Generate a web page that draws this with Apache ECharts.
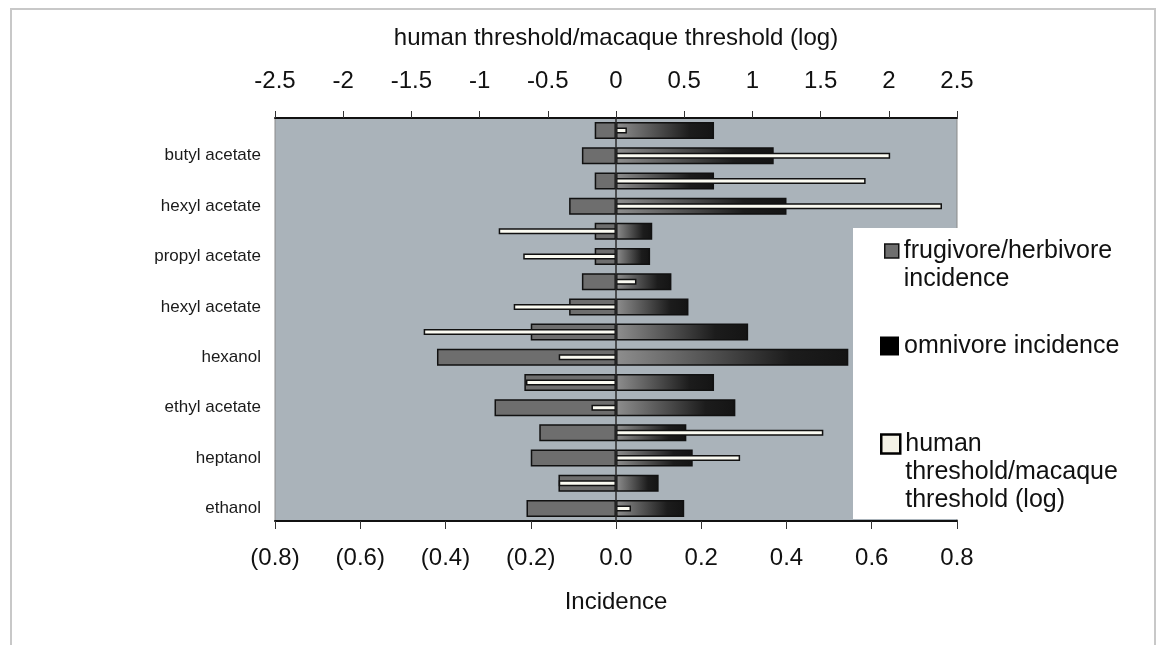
<!DOCTYPE html>
<html>
<head>
<meta charset="utf-8">
<script src="https://cdn.jsdelivr.net/npm/echarts@6/dist/echarts.min.js"></script>
<style>
  html, body { margin: 0; padding: 0; background: #ffffff; }
  #chart { width: 1157px; height: 645px; }
</style>
</head>
<body>
<div id="chart"></div>
<script>
// ---- data (rows top to bottom; every second row carries a label) ----
const categories = ['', 'butyl acetate', '', 'hexyl acetate', '', 'propyl acetate', '', 'hexyl acetate',
                    '', 'hexanol', '', 'ethyl acetate', '', 'heptanol', '', 'ethanol'];
const frugivoreIncidence = [-0.05, -0.08, -0.05, -0.11, -0.05, -0.05, -0.08, -0.11,
                            -0.20, -0.42, -0.215, -0.285, -0.18, -0.20, -0.135, -0.21];
const omnivoreIncidence = [0.23, 0.37, 0.23, 0.40, 0.085, 0.08, 0.13, 0.17,
                           0.31, 0.545, 0.23, 0.28, 0.165, 0.18, 0.10, 0.16];
const thresholdLog = [0.08, 2.01, 1.83, 2.39, -0.86, -0.68, 0.15, -0.75,
                      -1.41, -0.42, -0.66, -0.18, 1.52, 0.91, -0.42, 0.11];
const seriesNames = ['frugivore/herbivore incidence', 'omnivore incidence', 'human threshold/macaque threshold (log)'];
const legendLabels = [['frugivore/herbivore', 'incidence'], ['omnivore incidence'], ['human', 'threshold/macaque', 'threshold (log)']];
const bottomAxisName = 'Incidence';
const topAxisName = 'human threshold/macaque threshold (log)';

const FONT = "'Liberation Sans', Arial, sans-serif";
const chart = echarts.init(document.getElementById('chart'), null, { renderer: 'canvas' });

function incLabel(v) {
  if (Math.abs(v) < 1e-9) return '0.0';
  return v < 0 ? '(' + Math.abs(v).toFixed(1) + ')' : v.toFixed(1);
}
function logLabel(v) {
  return String(+v.toFixed(1));
}

const omniGradient = new echarts.graphic.LinearGradient(0, 0, 1, 0, [
  { offset: 0, color: '#8e8e8e' },
  { offset: 0.45, color: '#4a4a4a' },
  { offset: 0.75, color: '#1c1c1c' },
  { offset: 1, color: '#141414' }
]);

// multi-line legend labels: blank lines are prepended so the first line sits level with the icon
function legendText(i) {
  const lines = legendLabels[i];
  return '\n'.repeat(lines.length - 1) + lines.join('\n');
}

function makeLegend(i, left, top, iw, ih, itemStyle) {
  return {
    data: [{ name: seriesNames[i], icon: 'rect', itemStyle: itemStyle }],
    orient: 'vertical',
    left: left, top: top,
    itemWidth: iw, itemHeight: ih,
    padding: 0,
    selectedMode: false,
    z: 8,
    formatter: function () { return legendText(i); },
    textStyle: { fontFamily: FONT, fontSize: 25, lineHeight: 28, color: '#111' }
  };
}

const option = {
  animation: false,
  backgroundColor: '#ffffff',
  graphic: [
    { type: 'rect', z: 0, shape: { x: 11, y: 9, width: 1144, height: 700 },
      style: { fill: null, stroke: '#c8c8c8', lineWidth: 2 } },
    { type: 'rect', z: 6, shape: { x: 853, y: 228, width: 275, height: 291 },
      style: { fill: '#ffffff', stroke: null } }
  ],
  grid: {
    left: 275, top: 118, width: 682, height: 403,
    show: true, backgroundColor: '#aab3ba', borderColor: '#8a8a8a', borderWidth: 1
  },
  legend: [
    makeLegend(0, 884, 209, 14, 14, { color: '#6e6e6e', borderColor: '#111', borderWidth: 1.5 }),
    makeLegend(1, 880, 332, 19, 19, { color: '#000', borderColor: '#000', borderWidth: 0 }),
    makeLegend(2, 880, 374, 19, 19, { color: '#f4f2e6', borderColor: '#000', borderWidth: 2.5 })
  ],
  xAxis: [
    {
      type: 'value', position: 'bottom', min: -0.8, max: 0.8, interval: 0.2,
      splitLine: { show: false },
      axisLine: { show: true, onZero: false, lineStyle: { color: '#111', width: 2 } },
      axisTick: { show: true, length: 8, lineStyle: { color: '#333', width: 1 } },
      axisLabel: { formatter: incLabel, fontFamily: FONT, fontSize: 24, color: '#111', margin: 25 },
      name: bottomAxisName, nameLocation: 'middle', nameGap: 69,
      nameTextStyle: { fontFamily: FONT, fontSize: 24, color: '#111' }
    },
    {
      type: 'value', position: 'top', min: -2.5, max: 2.5, interval: 0.5,
      splitLine: { show: false },
      axisLine: { show: true, onZero: false, lineStyle: { color: '#111', width: 2 } },
      axisTick: { show: true, length: 7, lineStyle: { color: '#333', width: 1 } },
      axisLabel: { formatter: logLabel, fontFamily: FONT, fontSize: 24, color: '#111', margin: 25 },
      name: topAxisName, nameLocation: 'middle', nameGap: 68,
      nameTextStyle: { fontFamily: FONT, fontSize: 24, color: '#111' }
    }
  ],
  yAxis: [
    {
      type: 'category', data: categories, inverse: true,
      axisLine: { show: false }, axisTick: { show: false }, splitLine: { show: false },
      axisLabel: { interval: 0, fontFamily: FONT, fontSize: 17, color: '#1a1a1a', margin: 14 }
    },
    {
      type: 'category', data: categories, inverse: true, show: false
    }
  ],
  series: [
    {
      name: seriesNames[0], type: 'bar', stack: 'inc', xAxisIndex: 0, yAxisIndex: 0,
      data: frugivoreIncidence, barWidth: 17,
      itemStyle: { color: '#6e6e6e', borderColor: '#111', borderWidth: 1.5 }
    },
    {
      name: seriesNames[1], type: 'bar', stack: 'inc', xAxisIndex: 0, yAxisIndex: 0,
      data: omnivoreIncidence, barWidth: 17,
      itemStyle: { color: omniGradient, borderColor: '#111', borderWidth: 1.5 }
    },
    {
      name: seriesNames[2], type: 'bar', xAxisIndex: 1, yAxisIndex: 1,
      data: thresholdLog, barWidth: 6,
      itemStyle: { color: '#fbfbf2', borderColor: '#111', borderWidth: 1.5 },
      markLine: {
        silent: true, symbol: 'none', label: { show: false },
        lineStyle: { color: '#2a2a2a', width: 1.5, type: 'solid' },
        data: [{ xAxis: 0 }]
      }
    }
  ]
};
chart.setOption(option);
</script>
</body>
</html>
